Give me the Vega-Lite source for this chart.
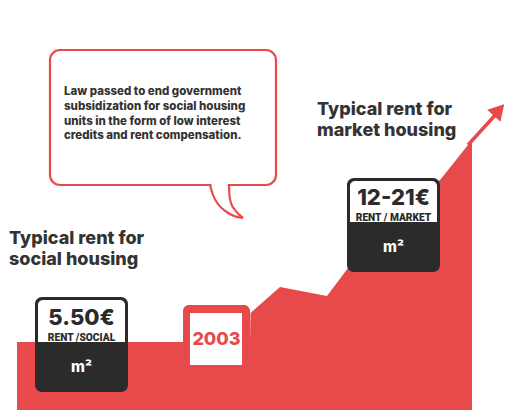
{
  "$schema": "https://vega.github.io/schema/vega-lite/v6.json",
  "width": 505,
  "height": 410,
  "padding": 0,
  "autosize": {"type": "fit", "contains": "padding"},
  "background": "white",
  "config": {"view": {"stroke": null}, "text": {"font": "Inter"}},
  "datasets": {
    "rentArea": [
      {"x": 17, "y": 342}, {"x": 250, "y": 342}, {"x": 250.5, "y": 313},
      {"x": 280, "y": 287}, {"x": 327, "y": 296}, {"x": 348, "y": 268},
      {"x": 440, "y": 180}, {"x": 472, "y": 140}
    ],
    "bump": [{"x": 183, "x2": 250, "y": 305, "y2": 350}],
    "yearBox": [{"x": 190, "x2": 242, "y": 313, "y2": 365}],
    "boxes": [
      {"box": "social", "x": 35, "x2": 128, "y": 297, "y2": 392},
      {"box": "market", "x": 347, "x2": 440, "y": 178, "y2": 272}
    ],
    "boxTops": [
      {"box": "social", "x": 38, "x2": 125, "y": 300, "y2": 342},
      {"box": "market", "x": 350, "x2": 437, "y": 181, "y2": 222}
    ],
    "bubble": [{"x": 50, "x2": 276, "y": 50, "y2": 185}],
    "bubbleGap": [{"x": 211.5, "x2": 227.8, "y": 185}],
    "tail": [
      {"side": "left", "x": 210, "y": 185}, {"side": "left", "x": 213, "y": 195},
      {"side": "left", "x": 218, "y": 204}, {"side": "left", "x": 226, "y": 211.5},
      {"side": "left", "x": 234, "y": 216}, {"side": "left", "x": 243, "y": 218},
      {"side": "right", "x": 229, "y": 185}, {"side": "right", "x": 229.4, "y": 195},
      {"side": "right", "x": 231, "y": 203}, {"side": "right", "x": 235, "y": 210},
      {"side": "right", "x": 243, "y": 218}
    ],
    "arrowShaft": [{"x": 468, "y": 145, "x2": 498, "y2": 112}],
    "arrowHead": [{"x": 499, "y": 110}],
    "values": [
      {"text": "5.50€", "x": 81.5, "y": 317.5},
      {"text": "12-21€", "x": 393.5, "y": 198}
    ],
    "units": [
      {"text": "RENT /SOCIAL", "x": 81.5, "y": 337.5},
      {"text": "RENT / MARKET", "x": 393.5, "y": 217.5}
    ],
    "perArea": [
      {"text": "m²", "x": 81.5, "y": 367},
      {"text": "m²", "x": 393.5, "y": 247}
    ],
    "year": [{"text": "2003", "x": 216.5, "y": 340}],
    "headings": [
      {"text": "Typical rent for", "x": 9, "y": 239},
      {"text": "social housing", "x": 9, "y": 260},
      {"text": "Typical rent for", "x": 317, "y": 110},
      {"text": "market housing", "x": 317, "y": 131}
    ],
    "note": [
      {"text": "Law passed to end government", "x": 64, "y": 92},
      {"text": "subsidization for social housing", "x": 64, "y": 107},
      {"text": "units in the form of low interest", "x": 64, "y": 121.5},
      {"text": "credits and rent compensation.", "x": 64, "y": 136}
    ]
  },
  "encoding": {
    "x": {"field": "x", "type": "quantitative", "scale": {"domain": [0, 505], "nice": false, "zero": false}, "axis": null},
    "y": {"field": "y", "type": "quantitative", "scale": {"domain": [0, 410], "nice": false, "zero": false, "reverse": true}, "axis": null}
  },
  "layer": [
    {
      "data": {"name": "rentArea"},
      "mark": {"type": "area", "color": "#e84a4c", "interpolate": "linear"},
      "encoding": {"y2": {"datum": 410}}
    },
    {
      "data": {"name": "arrowShaft"},
      "mark": {"type": "rule", "color": "#e84a4c", "strokeWidth": 3.5},
      "encoding": {"x2": {"field": "x2"}, "y2": {"field": "y2"}}
    },
    {
      "data": {"name": "arrowHead"},
      "mark": {"type": "point", "shape": "triangle-up", "filled": true, "color": "#e84a4c", "opacity": 1, "size": 320, "angle": 42},
      "encoding": {}
    },
    {
      "data": {"name": "bump"},
      "mark": {"type": "rect", "color": "#e84a4c", "cornerRadius": 6},
      "encoding": {"x2": {"field": "x2"}, "y2": {"field": "y2"}}
    },
    {
      "data": {"name": "yearBox"},
      "mark": {"type": "rect", "color": "white"},
      "encoding": {"x2": {"field": "x2"}, "y2": {"field": "y2"}}
    },
    {
      "data": {"name": "year"},
      "mark": {"type": "text", "color": "#e84a4c", "fontSize": 18, "fontWeight": 800, "align": "center", "baseline": "middle"},
      "encoding": {"text": {"field": "text"}}
    },
    {
      "data": {"name": "boxes"},
      "mark": {"type": "rect", "color": "#2b2b2b", "cornerRadius": 7},
      "encoding": {"x2": {"field": "x2"}, "y2": {"field": "y2"}}
    },
    {
      "data": {"name": "boxTops"},
      "mark": {"type": "rect", "color": "white", "cornerRadiusTopLeft": 5, "cornerRadiusTopRight": 5},
      "encoding": {"x2": {"field": "x2"}, "y2": {"field": "y2"}}
    },
    {
      "data": {"name": "values"},
      "mark": {"type": "text", "color": "#2b2b2b", "fontSize": 22, "fontWeight": 800, "align": "center", "baseline": "middle"},
      "encoding": {"text": {"field": "text"}}
    },
    {
      "data": {"name": "units"},
      "mark": {"type": "text", "color": "#2b2b2b", "fontSize": 10.2, "fontWeight": 900, "align": "center", "baseline": "middle", "font": "Roboto"},
      "encoding": {"text": {"field": "text"}}
    },
    {
      "data": {"name": "perArea"},
      "mark": {"type": "text", "color": "white", "fontSize": 15, "fontWeight": 800, "align": "center", "baseline": "middle"},
      "encoding": {"text": {"field": "text"}}
    },
    {
      "data": {"name": "bubble"},
      "mark": {"type": "rect", "fill": "white", "stroke": "#e84a4c", "strokeWidth": 2.2, "cornerRadius": 10},
      "encoding": {"x2": {"field": "x2"}, "y2": {"field": "y2"}}
    },
    {
      "data": {"name": "bubbleGap"},
      "mark": {"type": "rule", "color": "white", "strokeWidth": 4},
      "encoding": {"x2": {"field": "x2"}}
    },
    {
      "data": {"name": "tail"},
      "mark": {"type": "line", "color": "#e84a4c", "strokeWidth": 2.2, "interpolate": "monotone"},
      "encoding": {"detail": {"field": "side"}}
    },
    {
      "data": {"name": "note"},
      "mark": {"type": "text", "color": "#333333", "fontSize": 11.5, "fontWeight": 800, "align": "left", "baseline": "middle"},
      "encoding": {"text": {"field": "text"}}
    },
    {
      "data": {"name": "headings"},
      "mark": {"type": "text", "color": "#333333", "fontSize": 18, "fontWeight": 800, "align": "left", "baseline": "middle"},
      "encoding": {"text": {"field": "text"}}
    }
  ]
}
